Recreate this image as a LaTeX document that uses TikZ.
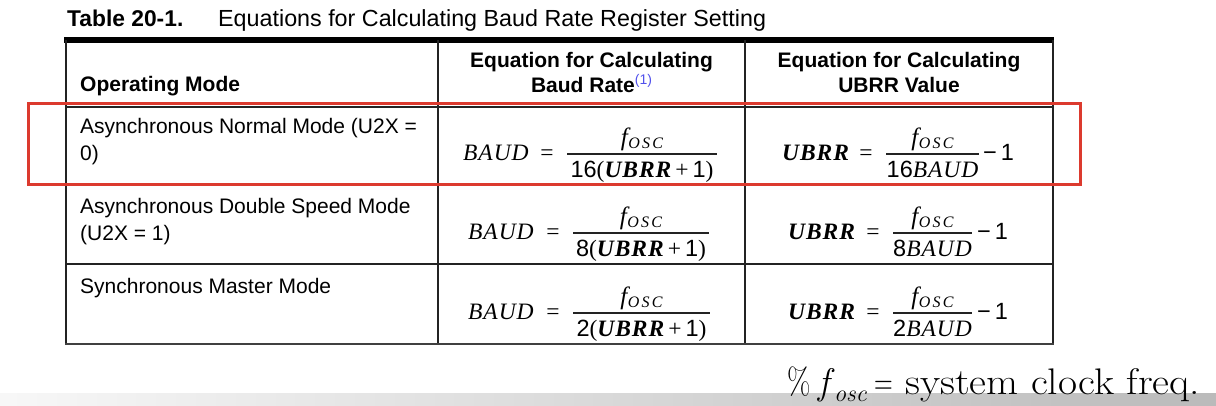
\documentclass[tikz,border=0pt]{standalone}
\usepackage{fontspec}
\newfontfamily\arial{Liberation Sans}
\newfontfamily\tms{Liberation Serif}
\newfontfamily\tmsls[LetterSpace=4]{Liberation Serif}
\newfontfamily\tmswide[LetterSpace=14]{Liberation Serif}
\definecolor{boxred}{RGB}{220,58,46}
\definecolor{supblue}{RGB}{80,80,235}
\definecolor{rulegray}{RGB}{35,35,35}
\newcommand\vBAUD{{\tmsls\itshape BAUD}}
\newcommand\vUBRR{{\tmsls\bfseries\itshape UBRR}}
\newcommand\fosc{{\tms\itshape\fontsize{25}{25}\selectfont f\kern0.5pt\raisebox{-3pt}{\fontsize{16}{16}\selectfont\tmswide\itshape OSC}}}
\newcommand\dplus{{\tms\kern4pt+\kern4pt}}
\newcommand\fraceq[8]{%
  \node[eqtxt,anchor=base west] (#1-lhs) at (#3,#2+6) {#6};
  \node[eqtxt,anchor=base] (#1-eq) at (#4-20,#2+6) {\tms =};
  \draw[fracbar] (#4,#2) coordinate (#1-bl) -- (#5,#2) coordinate (#1-br);
  \node[eqtxt,anchor=base] (#1-num) at ({(#4+#5)/2},#2-9) {\fosc};
  \node[eqtxt,anchor=base] (#1-den) at ({(#4+#5)/2},#2+23) {#7};
  #8}
\tikzset{
  body/.style={font=\arial\fontsize{21}{26}\selectfont, inner sep=0pt, anchor=base west},
  head/.style={font=\arial\bfseries\fontsize{21}{25}\selectfont, inner sep=0pt, anchor=base},
  eqtxt/.style={font=\fontsize{23.5}{23.5}\selectfont, inner sep=0pt},
  fracbar/.style={line width=1.5pt, draw=rulegray},
  rule/.style={line width=1.6pt, draw=rulegray},
  fn/.style={font=\rmfamily\fontsize{37}{40}\selectfont, inner sep=0pt, anchor=base west},
}
\begin{document}
\begin{tikzpicture}[x=1pt,y=-1pt]
\useasboundingbox (0,0) rectangle (1216,405);
% bottom gray bar
\shade[left color=black!3, right color=black!27] (0,393) rectangle (1216,405);
% title
\node[anchor=base west, inner sep=0pt, font=\arial\bfseries\fontsize{22.8}{26}\selectfont] (tnum) at (67,26) {Table 20-1.};
\node[anchor=base west, inner sep=0pt, font=\arial\fontsize{23.3}{26}\selectfont] (ttitle) at (218,26) {Equations for Calculating Baud Rate Register Setting};
% table rules
\draw[line width=6pt, draw=black] (64,40) -- (1054,40);
\draw[rule] (66,40) -- (66,344);
\draw[rule] (438,40) -- (438,344);
\draw[rule] (745,40) -- (745,344);
\draw[rule] (1053,40) -- (1053,344);
\draw[rule] (66,107) -- (1053,107);
\draw[rule] (66,184) -- (1053,184);
\draw[rule] (66,264) -- (1053,264);
\draw[line width=2.2pt, draw=black!75] (65,344) -- (1054,344);
% header
\node[head, anchor=base west] (h1) at (80,91) {Operating Mode};
\node[head] (h2a) at (591.5,67) {Equation for Calculating};
\node[head] (h2b) at (591.5,92) {Baud Rate\raisebox{8pt}{\mdseries\fontsize{14}{14}\selectfont\color{supblue}(1)}};
\node[head] (h3a) at (899,67) {Equation for Calculating};
\node[head] (h3b) at (899,92) {UBRR Value};
% row texts
\node[body] (r1a) at (80,133) {Asynchronous Normal Mode (U2X =};
\node[body] (r1b) at (80,160) {0)};
\node[body] (r2a) at (80,213) {Asynchronous Double Speed Mode};
\node[body] (r2b) at (80,240) {(U2X = 1)};
\node[body] (r3a) at (80,293) {Synchronous Master Mode};
% equations
\fraceq{e1b}{154}{463}{567}{717}{\vBAUD}{{\arial 16}{\tms(}\vUBRR\dplus{\arial 1}{\tms)}}{}
\fraceq{e1u}{154}{782}{886}{979}{\vUBRR}{{\arial 16}\vBAUD}{\node[eqtxt,anchor=base west] (e1u-t) at (983,160) {\arial −\kern4pt1};}
\fraceq{e2b}{233}{468}{573}{709}{\vBAUD}{{\arial 8}{\tms(}\vUBRR\dplus{\arial 1}{\tms)}}{}
\fraceq{e2u}{233}{788}{893}{972}{\vUBRR}{{\arial 8}\vBAUD}{\node[eqtxt,anchor=base west] (e2u-t) at (977,239) {\arial −\kern4pt1};}
\fraceq{e3b}{313}{468}{573}{710}{\vBAUD}{{\arial 2}{\tms(}\vUBRR\dplus{\arial 1}{\tms)}}{}
\fraceq{e3u}{313}{788}{893}{972}{\vUBRR}{{\arial 2}\vBAUD}{\node[eqtxt,anchor=base west] (e3u-t) at (977,319) {\arial −\kern4pt1};}
% highlight box
\draw[line width=3pt, draw=boxred] (28,103) rectangle (1080,184);
% footnote
\node[fn] (fpct) at (787,394) {\scalebox{0.82}[1]{\%}};
\node[fn] (ff) at (818,394) {\itshape f};
\node[fn, font=\rmfamily\itshape\fontsize{24}{24}\selectfont] (fosc) at (834,401) {osc};
\node[fn] (feq) at (874,394) {\scalebox{0.7}[1]{=}};
\node[fn] (ftext) at (905,394) {\scalebox{1.12}[1]{system clock freq.}};
\end{tikzpicture}
\end{document}
